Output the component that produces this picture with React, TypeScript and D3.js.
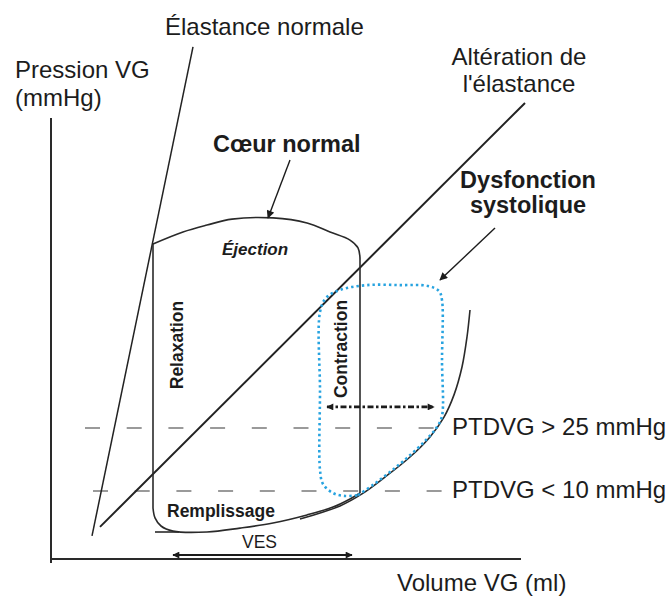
import React from "react";
import * as d3 from "d3";

// ---- Data (volume in ml, pressure in mmHg, schematic units) ----
const volumeDomain: [number, number] = [0, 235];
const pressureDomain: [number, number] = [0, 147];

const espvrNormal: [number, number][] = [[20.5, 7.7], [71, 170.7]];
const espvrAltered: [number, number][] = [[24.5, 10.7], [237, 152]];

// normal loop: ejection (top)
const normalEjection: [number, number][] = [
  [51, 105], [66, 109], [78, 111.3], [90.5, 113.3], [111, 113.7], [128, 112],
  [139.5, 109], [149.5, 106.3], [153.5, 103.7], [154.5, 100.3],
];
// normal loop: isovolumic sides (contraction on the right, relaxation on the left)
const normalContraction: [number, number][] = [[154.5, 100.3], [154.5, 22]];
const normalRelaxation: [number, number][] = [[51, 105], [51, 17]];
// normal loop: filling (bottom)
const normalFilling: [number, number][] = [
  [51, 17], [52, 13.7], [55, 11], [61, 9.3], [78, 9], [94.5, 10.3], [111, 12],
  [128, 14.7], [141, 17.3], [149.5, 20], [154.5, 22],
];
const fillingTail: [number, number][] = [[52, 9], [64, 9]];

// altered filling curve (end-diastolic pressure-volume relation)
const alteredFilling: [number, number][] = [
  [124.5, 13.3], [144.5, 17.7], [155.5, 21.7], [167, 27.3], [179.5, 34],
  [189.5, 40.7], [196.5, 47.3], [201.5, 54.7], [205.5, 64], [208, 74], [209.5, 83],
];

// systolic dysfunction loop
const dysfunctionLoop: [number, number][] = [
  [153.5, 21.3], [161, 24.7], [169.5, 29], [178, 33.7], [187, 39.3], [193, 44],
  [195.5, 47.7], [195.5, 66], [195.5, 86.3], [194, 89.3], [188.5, 91], [174.5, 91.3],
  [158, 91.3], [144.5, 89.7], [137.5, 87], [134.5, 82.3], [134.5, 56], [134.5, 29.7],
  [136, 25], [141, 22], [147, 21], [153.5, 21.3],
];

// end-diastolic pressure reference levels (plotted level, label)
const edpLevels = [
  { p: 43.7, from: 17, to: 194.5, label: "PTDVG > 25 mmHg" },
  { p: 22.7, from: 21, to: 196, label: "PTDVG < 10 mmHg" },
];

// annotation arrows [from, to]
const arrowNormal: [number, number][] = [[119.5, 133], [108.5, 113.7]];
const arrowDysfunction: [number, number][] = [[222, 110.3], [194.5, 93]];
const arrowContraction: [number, number][] = [[138, 50.7], [191.5, 50.7]];
const arrowVES: [number, number][] = [[61, 1.3], [150.5, 1.3]];

const W = 668;
const H = 599;
const INK = "#1c1c1c";
const FONT = "'Liberation Sans', Arial, Helvetica, sans-serif";

export default function App() {
  const x = d3.scaleLinear().domain(volumeDomain).range([51, 521]);
  const y = d3.scaleLinear().domain(pressureDomain).range([559, 118]);

  const smooth = d3
    .line<[number, number]>()
    .x((d) => x(d[0]))
    .y((d) => y(d[1]))
    .curve(d3.curveCatmullRom.alpha(0.5));
  const straight = d3
    .line<[number, number]>()
    .x((d) => x(d[0]))
    .y((d) => y(d[1]));

  const textStyle = { fontFamily: FONT, fill: INK } as const;
  const loopStroke = { stroke: "#2a2a2a", strokeWidth: 1.6, fill: "none" } as const;

  return (
    <svg
      width={W}
      height={H}
      viewBox={`0 0 ${W} ${H}`}
      style={{ position: "absolute", left: 0, top: 0, background: "#fff" }}
    >
      <defs>
        <marker id="tri" viewBox="0 0 10 10" refX="9" refY="5" markerWidth="9" markerHeight="8"
          markerUnits="userSpaceOnUse" orient="auto-start-reverse">
          <path d="M0,0 L10,5 L0,10 z" fill={INK} />
        </marker>
        <marker id="triS" viewBox="0 0 10 10" refX="9" refY="5" markerWidth="8" markerHeight="7"
          markerUnits="userSpaceOnUse" orient="auto-start-reverse">
          <path d="M0,0 L10,5 L0,10 z" fill={INK} />
        </marker>
      </defs>

      {/* axes */}
      <line x1={x(0)} x2={x(0)} y1={y(0) + 4} y2={y(pressureDomain[1])} stroke="#2a2a2a" strokeWidth={2} />
      <line x1={x(0)} x2={x(volumeDomain[1])} y1={y(0)} y2={y(0)} stroke="#2a2a2a" strokeWidth={2} />

      {/* EDP dashed levels */}
      {edpLevels.map((l, i) => (
        <line key={i} x1={x(l.from)} x2={x(l.to)} y1={y(l.p)} y2={y(l.p)}
          stroke="#9a9a9a" strokeWidth={2} strokeDasharray="15 26.7" />
      ))}

      {/* elastance lines */}
      <path d={straight(espvrNormal)!} stroke="#222" strokeWidth={1.5} fill="none" />
      <path d={straight(espvrAltered)!} stroke="#222" strokeWidth={2} fill="none" />

      {/* normal loop */}
      <path d={smooth(normalEjection)!} {...loopStroke} />
      <path d={straight(normalContraction)!} {...loopStroke} />
      <path d={straight(normalRelaxation)!} {...loopStroke} />
      <path d={smooth(normalFilling)!} {...loopStroke} />
      <path d={straight(fillingTail)!} {...loopStroke} />
      <path d={smooth(alteredFilling)!} {...loopStroke} />

      {/* dysfunction loop */}
      <path d={smooth(dysfunctionLoop)!} stroke="#27a3e0" strokeWidth={2.6} fill="none"
        strokeDasharray="2.4 3" />

      {/* arrows */}
      <path d={straight(arrowNormal)!} stroke={INK} strokeWidth={1.4} fill="none" markerEnd="url(#tri)" />
      <path d={straight(arrowDysfunction)!} stroke={INK} strokeWidth={1.4} fill="none" markerEnd="url(#tri)" />
      <path d={straight(arrowContraction)!} stroke={INK} strokeWidth={2.6} fill="none"
        strokeDasharray="6 2.5 2.5 2.5" markerStart="url(#triS)" markerEnd="url(#triS)" />
      <path d={straight(arrowVES)!} stroke={INK} strokeWidth={2} fill="none"
        markerStart="url(#triS)" markerEnd="url(#triS)" />

      {/* texts */}
      <text x={15} y={78} fontSize={24} {...textStyle}>Pression VG</text>
      <text x={15} y={106} fontSize={24} {...textStyle}>(mmHg)</text>
      <text x={165} y={35} fontSize={24} {...textStyle}>Élastance normale</text>
      <text x={519} y={65} fontSize={24} textAnchor="middle" {...textStyle}>Altération de</text>
      <text x={519} y={92} fontSize={24} textAnchor="middle" {...textStyle}>l'élastance</text>
      <text x={213} y={152} fontSize={23.5} fontWeight="bold" {...textStyle}>Cœur normal</text>
      <text x={528} y={188} fontSize={23.5} fontWeight="bold" textAnchor="middle" {...textStyle}>Dysfonction</text>
      <text x={528} y={213} fontSize={23.5} fontWeight="bold" textAnchor="middle" {...textStyle}>systolique</text>
      <text x={222} y={255} fontSize={17} fontWeight="bold" fontStyle="italic" {...textStyle}>Éjection</text>
      <text transform="translate(183,345) rotate(-90)" fontSize={17.5} fontWeight="bold" textAnchor="middle" {...textStyle}>Relaxation</text>
      <text transform="translate(347,349) rotate(-90)" fontSize={17.5} fontWeight="bold" textAnchor="middle" {...textStyle}>Contraction</text>
      <text x={167} y={517} fontSize={17.5} fontWeight="bold" {...textStyle}>Remplissage</text>
      <text x={242} y={548} fontSize={17.5} {...textStyle}>VES</text>
      {edpLevels.map((l, i) => (
        <text key={i} x={452} y={y(l.p) + 7} fontSize={24} {...textStyle}>{l.label}</text>
      ))}
      <text x={397} y={591} fontSize={24} {...textStyle}>Volume VG (ml)</text>
    </svg>
  );
}
